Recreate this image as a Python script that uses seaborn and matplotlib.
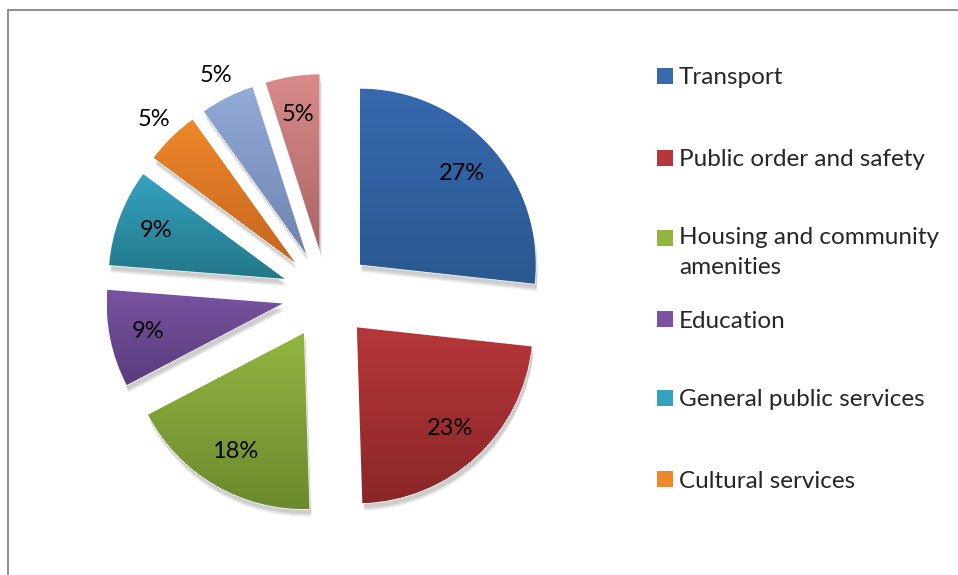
import matplotlib
matplotlib.use("Agg")
import matplotlib.pyplot as plt
from matplotlib.colors import LinearSegmentedColormap
from matplotlib.patches import Rectangle, Wedge
from matplotlib.lines import Line2D
import numpy as np
import seaborn as sns

categories = ["Transport", "Public order and safety", "Housing and community\namenities",
              "Education", "General public services", "Cultural services",
              "Health", "Recreation"]
shares = [27, 23, 18, 9, 9, 5, 5, 5]
legend_shown = 6  # the legend box is cut off after six entries

top_colors = ["#3669AE", "#B6373A", "#93B540", "#7953A0", "#34A2BF", "#EE882A", "#93AADA", "#D98B8B"]
bottom_colors = ["#2A5890", "#8A2628", "#6A8A2D", "#593C7D", "#237789", "#C6651E", "#6E83AE", "#A86464"]

sns.set_theme(style="white")
plt.rcParams["font.family"] = ["Lato", "DejaVu Sans"]

fig = plt.figure(figsize=(9.58, 5.75), dpi=100)
ax = fig.add_axes([0.0836, 0.0593, 0.5144, 0.857])

palette = sns.color_palette(top_colors)
wedges, _, pcts = ax.pie(
    shares, colors=palette, startangle=90, counterclock=False,
    explode=[0.254] * len(shares), autopct="%.0f%%", pctdistance=0.78,
    textprops={"fontsize": 17, "color": "black"},
)

# vertical gradient inside each slice, like the office chart style
grad = np.linspace(1, 0, 256).reshape(-1, 1)
for w, c0, c1 in zip(wedges, top_colors, bottom_colors):
    bb = w.get_path().get_extents(w.get_transform() + ax.transData.inverted())
    cmap = LinearSegmentedColormap.from_list("g", [c1, c0])
    im = ax.imshow(grad, cmap=cmap, extent=[bb.x0, bb.x1, bb.y0, bb.y1],
                   aspect="auto", zorder=w.get_zorder() + 0.1, origin="upper")
    im.set_clip_path(w)
    # soft shadow below
    for k in range(4):
        ax.add_patch(Wedge((w.center[0] + 0.01, w.center[1] - 0.025 - 0.006 * k), w.r,
                           w.theta1, w.theta2, facecolor="black", alpha=0.05, lw=0, zorder=0))
ax.set_xlim(-1.4, 1.4)
ax.set_ylim(-1.4, 1.4)
ax.set_aspect("equal")
ax.axis("off")

for t in pcts:
    t.set_zorder(10)

# small slices whose labels sit outside
for i in (5, 6):
    w = wedges[i]
    mid = np.deg2rad((w.theta1 + w.theta2) / 2)
    pcts[i].set_position((w.center[0] + 1.14 * w.r * np.cos(mid),
                          w.center[1] + 1.14 * w.r * np.sin(mid)))

# legend drawn entry by entry (two-line label keeps regular spacing)
W, H = 958, 575
rows = [76, 158, 238, 319, 398, 479]
for i in range(legend_shown):
    y = rows[i]
    fig.patches.append(Rectangle((657 / W, 1 - (y + 8) / H), 16 / W, 16 / H,
                                 transform=fig.transFigure, facecolor=top_colors[i],
                                 edgecolor="none"))
    if "\n" in categories[i]:
        fig.text(679 / W, 1 - (y - 11) / H, categories[i], fontsize=17.5,
                 va="top", ha="left", linespacing=1.55)
    else:
        fig.text(679 / W, 1 - (y + 2) / H, categories[i], fontsize=17.5,
                 va="center", ha="left")

# chart frame (cut at the right and bottom)
fig.add_artist(Line2D([8 / W, 8 / W], [0, 1 - 10 / H], transform=fig.transFigure,
                      color="#868686", lw=1.3))
fig.add_artist(Line2D([8 / W, 1], [1 - 10 / H, 1 - 10 / H], transform=fig.transFigure,
                      color="#868686", lw=1.3))

fig.savefig("out.png", dpi=100)
